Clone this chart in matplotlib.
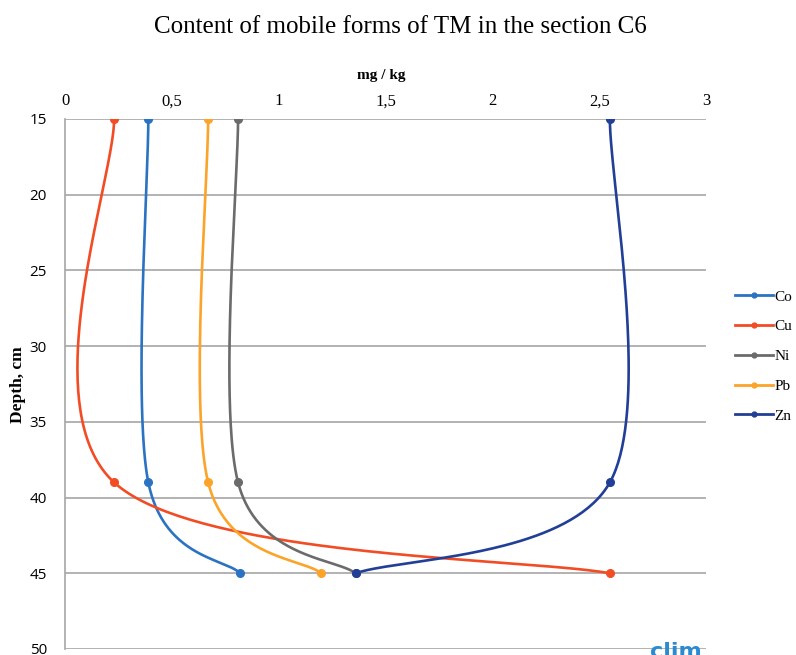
import numpy as np
import matplotlib
matplotlib.use("Agg")
import matplotlib.pyplot as plt

depths = [15, 39, 45]
series_names = ["Co", "Cu", "Ni", "Pb", "Zn"]
co = [0.39, 0.39, 0.82]
cu = [0.23, 0.23, 2.55]
ni = [0.81, 0.81, 1.36]
pb = [0.67, 0.67, 1.20]
zn = [2.55, 2.55, 1.36]
values = [co, cu, ni, pb, zn]
colors = ["#2b73c2", "#f24c25", "#6b6b6b", "#fca32a", "#213f96"]
x_ticks = [0, 0.5, 1, 1.5, 2, 2.5, 3]
x_tick_labels = ["0", "0,5", "1", "1,5", "2", "2,5", "3"]
y_ticks = [15, 20, 25, 30, 35, 40, 45, 50]

SERIF = "Liberation Serif"


def smooth(xs, ys, n=80):
    pts = np.column_stack([xs, ys]).astype(float)
    out = []
    m = len(pts)
    for i in range(m - 1):
        p0 = pts[max(i - 1, 0)]
        p1 = pts[i]
        p2 = pts[i + 1]
        p3 = pts[min(i + 2, m - 1)]
        c1 = p1 + (p2 - p0) / 6.0
        c2 = p2 - (p3 - p1) / 6.0
        t = np.linspace(0, 1, n)[:, None]
        seg = ((1 - t) ** 3) * p1 + 3 * ((1 - t) ** 2) * t * c1 + 3 * (1 - t) * t ** 2 * c2 + t ** 3 * p2
        out.append(seg if i == 0 else seg[1:])
    arr = np.vstack(out)
    return arr[:, 0], arr[:, 1]


fig = plt.figure(figsize=(7.96, 6.55), dpi=100)
ax = fig.add_axes([65 / 796, 1 - 649 / 655, (706 - 65) / 796, (649 - 119) / 655])

for name, vals, c in zip(series_names, values, colors):
    sx, sy = smooth(vals, depths)
    ax.plot(sx, sy, color=c, lw=1.9, solid_capstyle="round", zorder=3)
    ax.plot(vals, depths, ls="none", marker="o", ms=5.5, color=c, zorder=4)
    ax.plot([], [], color=c, lw=2.0, marker="o", ms=3.5, label=name)

ax.set_xlim(0, 3)
ax.set_ylim(50, 15)
ax.xaxis.tick_top()
ax.set_xticks(x_ticks)
ax.set_xticklabels(x_tick_labels, fontfamily=SERIF, fontsize=12)
ax.set_yticks(y_ticks)
ax.set_yticklabels([str(v) for v in y_ticks], fontfamily="Open Sans", fontsize=11)
ax.tick_params(axis="x", length=0, pad=7)
ax.tick_params(axis="y", length=0, pad=13)
ax.grid(axis="y", color="#a6a6a6", lw=1.2)
ax.grid(axis="x", visible=False)
for s in ["top", "right", "bottom"]:
    ax.spines[s].set_visible(False)
ax.spines["left"].set_color("#a6a6a6")
ax.spines["left"].set_linewidth(1.2)

fig.text(400 / 796, 1 - 27 / 655, "Content of mobile forms of TM in the section C6",
         ha="center", va="center", fontfamily=SERIF, fontsize=18)
fig.text(381 / 796, 1 - 75 / 655, "mg / kg", ha="center", va="center",
         fontfamily=SERIF, fontsize=11, fontweight="bold")
fig.text(18 / 796, 1 - 385 / 655, "Depth, cm", ha="center", va="center", rotation=90,
         fontfamily=SERIF, fontsize=12.5, fontweight="bold")

leg = fig.legend(loc="upper left", bbox_to_anchor=(735 / 796, 1 - 290 / 655), frameon=False,
                 prop={"family": SERIF, "size": 11}, handlelength=2.5, handletextpad=0.1,
                 labelspacing=1.05, borderaxespad=0, borderpad=0)

fig.text(650 / 796, 1 - 662 / 655, "clim", color="#2b8ad0", fontsize=16, fontweight="bold",
         fontfamily="DejaVu Sans", ha="left", va="bottom")

fig.savefig("out.png", dpi=100)
